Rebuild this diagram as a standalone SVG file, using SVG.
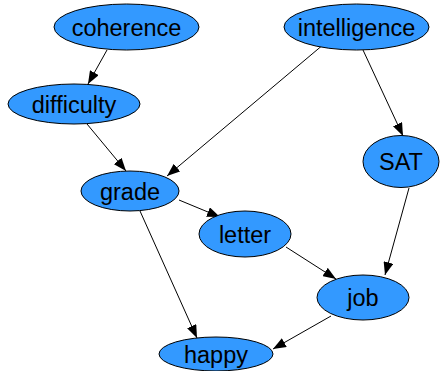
<svg xmlns="http://www.w3.org/2000/svg" width="441" height="371" viewBox="0 0 441 371">
<style>
.n ellipse{fill:#3399ff;stroke:#000;stroke-width:1}
.n text{font-family:"Liberation Sans",Arial,sans-serif;font-size:23.5px;fill:#000;text-anchor:middle}
.e line{stroke:#000;stroke-width:1;marker-end:url(#ah)}
</style>
<defs>
<marker id="ah" markerUnits="userSpaceOnUse" markerWidth="13" markerHeight="10" viewBox="0 0 13 10" refX="13" refY="5" orient="auto">
<path d="M0,0 L13,5 L0,10 Z" fill="#000"/>
</marker>
</defs>
<rect width="441" height="371" fill="#fff"/>
<g class="e">
<line x1="107" y1="50" x2="88" y2="84"/>
<line x1="87" y1="124" x2="126" y2="171"/>
<line x1="324" y1="44" x2="167" y2="176"/>
<line x1="363" y1="50" x2="403" y2="136"/>
<line x1="179" y1="200" x2="220" y2="217"/>
<line x1="286" y1="247" x2="336" y2="279"/>
<line x1="409" y1="188" x2="385" y2="275"/>
<line x1="140" y1="211" x2="197" y2="338"/>
<line x1="331" y1="316" x2="273" y2="349"/>
</g>
<g id="coherence" class="n"><ellipse cx="126.5" cy="27" rx="72.5" ry="23"/><text x="126.5" y="35.5">coherence</text></g>
<g id="intelligence" class="n"><ellipse cx="356.5" cy="27" rx="72.5" ry="23"/><text x="356.5" y="35.5">intelligence</text></g>
<g id="difficulty" class="n"><ellipse cx="74" cy="104" rx="66" ry="20"/><text x="74" y="112.5">difficulty</text></g>
<g id="SAT" class="n"><ellipse cx="401" cy="161.5" rx="38" ry="26"/><text x="401" y="170">SAT</text></g>
<g id="grade" class="n"><ellipse cx="130" cy="191" rx="49" ry="20"/><text x="130" y="199.5">grade</text></g>
<g id="letter" class="n"><ellipse cx="245" cy="234" rx="46" ry="23"/><text x="245" y="242.5">letter</text></g>
<g id="job" class="n"><ellipse cx="363" cy="297.5" rx="46" ry="22.5"/><text x="363" y="306">job</text></g>
<g id="happy" class="n"><ellipse cx="216" cy="354" rx="57" ry="17"/><text x="216" y="362.5">happy</text></g>
</svg>
